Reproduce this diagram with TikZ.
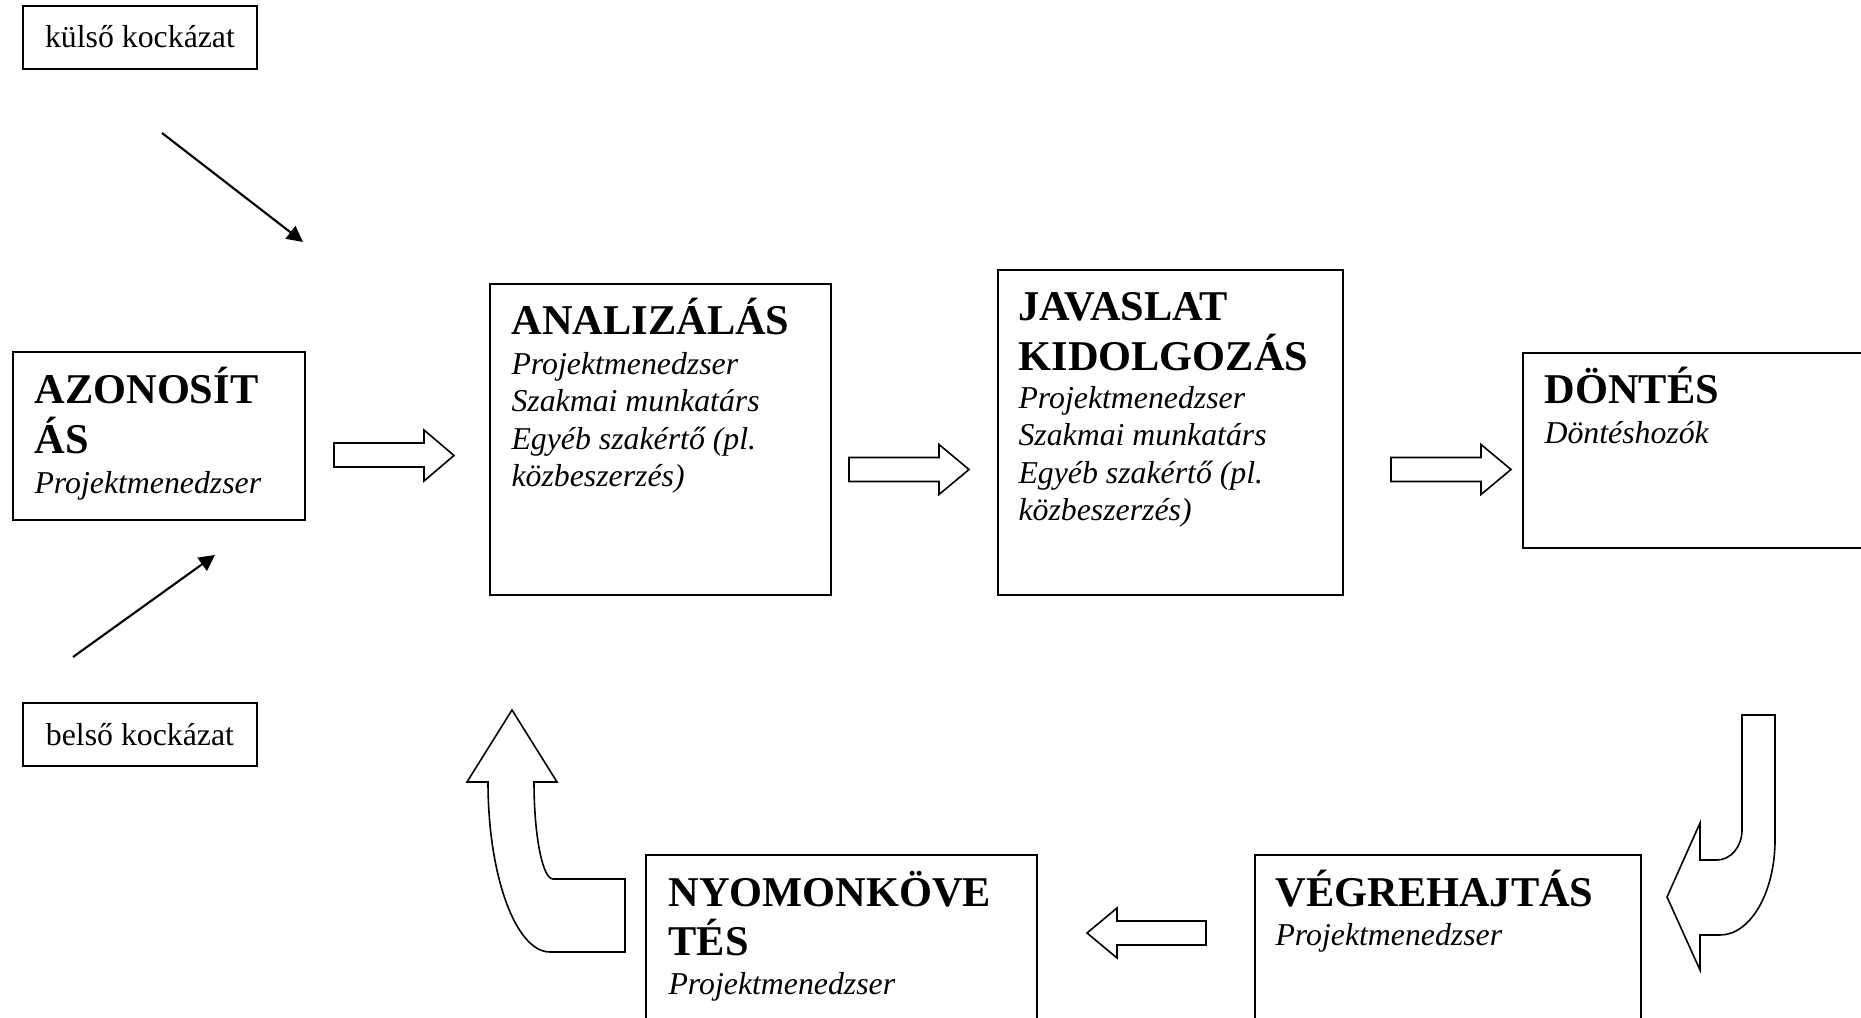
\documentclass[tikz,border=0pt]{standalone}
\usepackage{fontspec}
\setmainfont{Liberation Serif}
\usetikzlibrary{arrows.meta,fit}
\begin{document}
\begin{tikzpicture}[x=0.3774pt,y=-0.3774pt,
  box/.style={draw, line width=0.75pt, rectangle, inner sep=0pt},
  blk/.style={draw, line width=0.6pt, line join=miter, fill=white},
  thin/.style={line width=0.8pt, -{Triangle[length=6pt,width=6pt]}},
  ttl/.style={anchor=base west, inner sep=0pt, font=\fontsize{16}{18}\selectfont\bfseries},
  itl/.style={anchor=base west, inner sep=0pt, font=\fontsize{12}{14}\selectfont\itshape},
  rsk/.style={anchor=base, inner sep=0pt, font=\fontsize{12}{14}\selectfont}]
\clip (0,0) rectangle (1861,1018);
\fill[white] (0,0) rectangle (1861,1018);

% risk boxes
\node[box, fit={(23,6) (257,69)}] (kulso) {};
\node[rsk] (kulsotxt) at (140,48) {külső kockázat};
\node[box, fit={(23,703) (257,766)}] (belso) {};
\node[rsk] (belsotxt) at (140,745) {belső kockázat};

% thin arrows
\coordinate (e1) at (162,133);
\coordinate (e2) at (303,242);
\coordinate (i1) at (73,657);
\coordinate (i2) at (215,555);
\draw[thin] (e1) -- (e2);
\draw[thin] (i1) -- (i2);

% main boxes
\node[box, fit={(13,352) (305,520)}] (azon) {};
\node[ttl] (azon1) at (34,404) {AZONOSÍT};
\node[ttl] (azon2) at (34,454) {ÁS};
\node[itl] (azon3) at (34,494) {Projektmenedzser};

\node[box, fit={(490,284) (831,595)}] (anal) {};
\node[ttl] (anal1) at (511,335) {ANALIZÁLÁS};
\node[itl] (anal2) at (511,374.5) {Projektmenedzser};
\node[itl] (anal3) at (511,412) {Szakmai munkatárs};
\node[itl] (anal4) at (511,449.5) {Egyéb szakértő (pl.};
\node[itl] (anal5) at (511,487) {közbeszerzés)};

\node[box, fit={(998,270) (1343,595)}] (jav) {};
\node[ttl] (jav1) at (1018,321) {JAVASLAT};
\node[ttl] (jav2) at (1018,371) {KIDOLGOZÁS};
\node[itl] (jav3) at (1018,408.5) {Projektmenedzser};
\node[itl] (jav4) at (1018,446) {Szakmai munkatárs};
\node[itl] (jav5) at (1018,483.5) {Egyéb szakértő (pl.};
\node[itl] (jav6) at (1018,521) {közbeszerzés)};

\node[box, fit={(1523,353) (1880,548)}] (dont) {};
\node[ttl] (dont1) at (1544,404) {DÖNTÉS};
\node[itl] (dont2) at (1544,443.5) {Döntéshozók};

\node[box, fit={(646,855) (1037,1040)}] (nyom) {};
\node[ttl] (nyom1) at (668,906) {NYOMONKÖVE};
\node[ttl] (nyom2) at (668,955) {TÉS};
\node[itl] (nyom3) at (668,994) {Projektmenedzser};

\node[box, fit={(1255,855) (1641,1040)}] (vegr) {};
\node[ttl] (vegr1) at (1275,906) {VÉGREHAJTÁS};
\node[itl] (vegr2) at (1275,945.5) {Projektmenedzser};

% block arrows
\draw[blk] (334,443) -- (424,443) -- (424,430) -- (454,455.5) -- (424,481) -- (424,467) -- (334,467) -- cycle;
\draw[blk] (849,457.5) -- (939,457.5) -- (939,444.5) -- (969,469.5) -- (939,494.5) -- (939,481.5) -- (849,481.5) -- cycle;
\draw[blk] (1391,457.5) -- (1481,457.5) -- (1481,444.5) -- (1511,469.5) -- (1481,494.5) -- (1481,481.5) -- (1391,481.5) -- cycle;
\draw[blk] (1206,921) -- (1117,921) -- (1117,908) -- (1087,933) -- (1117,958) -- (1117,945) -- (1206,945) -- cycle;

% bent arrows
\draw[blk] (1742,715) -- (1742,830) .. controls (1742,846.6) and (1730.8,860) .. (1717,860) -- (1700,860) -- (1700,823) -- (1667,897) -- (1700,970) -- (1700,935) -- (1720,935) .. controls (1750.4,935) and (1775,892.5) .. (1775,840) -- (1775,715) -- cycle;
\draw[blk] (512,710) -- (557,782) -- (534,782) .. controls (534,835.6) and (542.5,879) .. (553,879) -- (625,879) -- (625,952) -- (550,952) .. controls (515.8,952) and (488,875.9) .. (488,782) -- (467,782) -- cycle;
\end{tikzpicture}
\end{document}
